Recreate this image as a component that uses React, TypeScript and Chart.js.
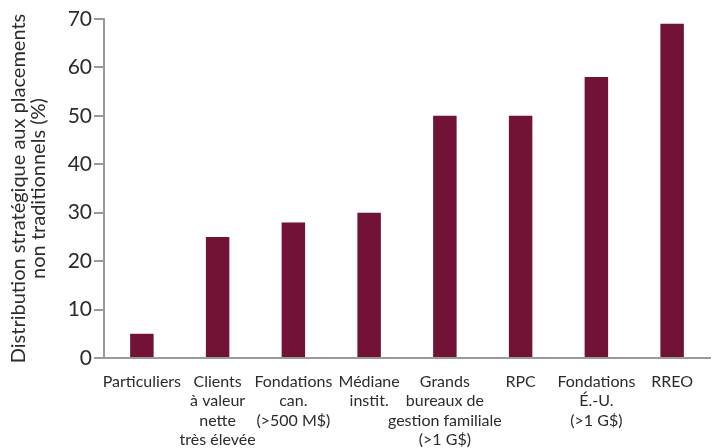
import React, { useEffect, useRef } from "react";
import { Chart, registerables } from "chart.js";

Chart.register(...registerables);

const categories: string[][] = [
  ["Particuliers"],
  ["Clients", "à valeur", "nette", "très élevée"],
  ["Fondations", "can.", "(>500 M$)"],
  ["Médiane", "instit."],
  ["Grands", "bureaux de", "gestion familiale", "(>1 G$)"],
  ["RPC"],
  ["Fondations", "É.-U.", "(>1 G$)"],
  ["RREO"],
];
const values: number[] = [5, 25, 28, 30, 50, 50, 58, 69];
const yTitle: string[] = ["Distribution stratégique aux placements", "non traditionnels (%)"];
const yMin = 0;
const yMax = 70;
const yStep = 10;

export default function App() {
  const ref = useRef<HTMLCanvasElement | null>(null);
  useEffect(() => {
    if (!ref.current) return;
    const textColor = "#2b2b2b";
    const axisColor = "#9a9a9a";
    const chart = new Chart(ref.current, {
      type: "bar",
      data: {
        labels: categories,
        datasets: [
          {
            data: values,
            backgroundColor: "#721237",
            barPercentage: 0.31,
            categoryPercentage: 1,
          },
        ],
      },
      options: {
        animation: false,
        responsive: false,
        maintainAspectRatio: false,
        layout: { padding: { top: 19, right: 3, left: 0, bottom: 0 } },
        plugins: { legend: { display: false }, tooltip: { enabled: false } },
        scales: {
          x: {
            grid: { display: false, drawTicks: false },
            border: { display: true, color: axisColor, width: 2 },
            ticks: {
              color: textColor,
              font: { family: "Lato", size: 16, lineHeight: 1.22 },
              padding: 14,
              maxRotation: 0,
              autoSkip: false,
            },
            afterFit: (s: any) => {
              s.height = 90;
            },
          },
          y: {
            min: yMin,
            max: yMax,
            ticks: {
              stepSize: yStep,
              color: textColor,
              font: { family: "Lato", size: 21 },
              padding: 2,
            },
            grid: {
              drawOnChartArea: false,
              drawTicks: true,
              tickLength: 10,
              color: axisColor,
              lineWidth: 2,
            },
            border: { display: true, color: axisColor, width: 2 },
            title: {
              display: true,
              text: yTitle,
              color: textColor,
              font: { family: "Lato", size: 20, lineHeight: 1.0 },
              padding: { top: 9, bottom: 0 },
            },
            afterFit: (s: any) => {
              s.width = 104;
            },
          },
        },
      },
    });
    return () => chart.destroy();
  }, []);
  return (
    <div style={{ position: "absolute", left: 0, top: 0, width: 713, height: 448, background: "#fff" }}>
      <canvas ref={ref} width={713} height={448} style={{ width: 713, height: 448 }} />
    </div>
  );
}
